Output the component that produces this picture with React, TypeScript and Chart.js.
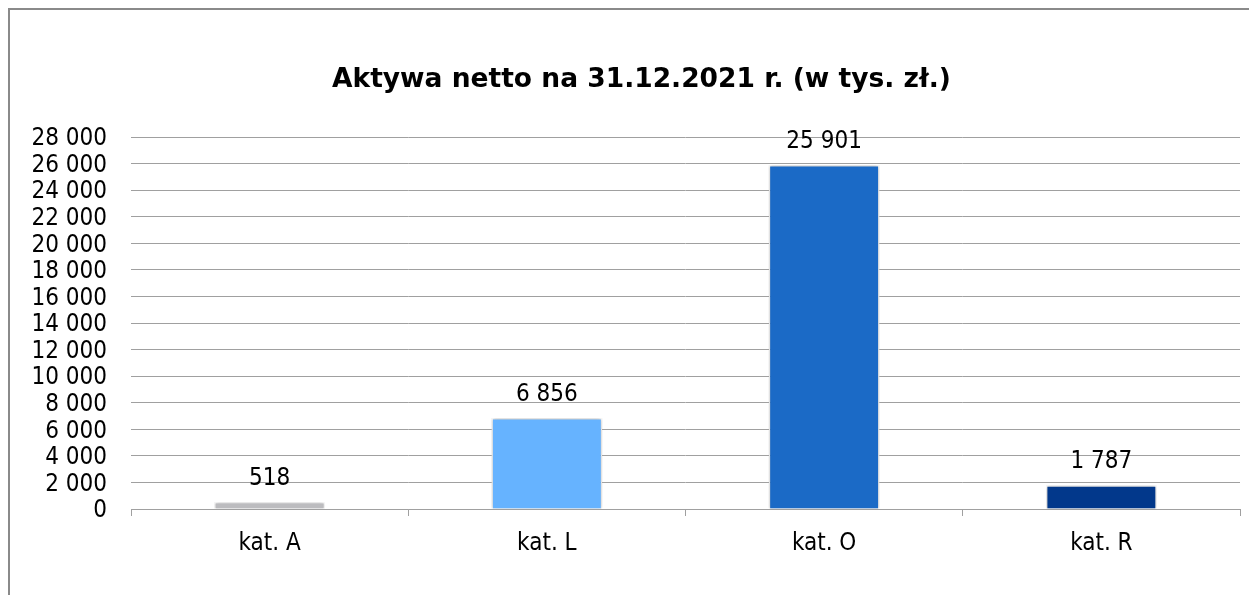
import React, { useEffect, useRef } from "react";
import { Chart, registerables } from "chart.js";
Chart.register(...registerables);

const categories = ["kat. A", "kat. L", "kat. O", "kat. R"];
const values = [518, 6856, 25901, 1787];
const barColors = ["#bcbcbf", "#66b3ff", "#1b6ac6", "#02388b"];
const titleText = "Aktywa netto na 31.12.2021 r. (w tys. zł.)";
const yMin = 0;
const yMax = 28000;
const yStep = 2000;

const labelFamily = "'DejaVu Sans Condensed', 'DejaVu Sans', sans-serif";

const fmt = (v: number) =>
  Math.round(v)
    .toString()
    .replace(/\B(?=(\d{3})+(?!\d))/g, " ");

const shadowPlugin = {
  id: "barShadow",
  beforeDatasetsDraw(chart: any) {
    const ctx = chart.ctx;
    ctx.save();
    ctx.shadowColor = "rgba(0,0,0,0.28)";
    ctx.shadowBlur = 4;
    ctx.shadowOffsetX = 0;
    ctx.shadowOffsetY = 0;
  },
  afterDatasetsDraw(chart: any) {
    chart.ctx.restore();
  },
};

const labelPlugin = {
  id: "valueLabels",
  afterDatasetsDraw(chart: any) {
    const ctx = chart.ctx;
    const meta = chart.getDatasetMeta(0);
    ctx.save();
    ctx.font = `24px ${labelFamily}`;
    ctx.fillStyle = "#000";
    ctx.textAlign = "center";
    ctx.textBaseline = "alphabetic";
    meta.data.forEach((bar: any, i: number) => {
      const { x, y } = bar.getProps(["x", "y"], true);
      ctx.fillText(fmt(values[i]), x, y - 17);
    });
    ctx.restore();
  },
};

const titleShiftPlugin = {
  id: "titleShift",
  afterLayout(chart: any) {
    const tb = chart.titleBlock;
    if (tb) tb.left = 33;
  },
};

export default function App() {
  const ref = useRef<HTMLCanvasElement | null>(null);
  useEffect(() => {
    if (!ref.current) return;
    const chart = new Chart(ref.current, {
      type: "bar",
      data: {
        labels: categories,
        datasets: [
          {
            data: values,
            backgroundColor: barColors,
            borderColor: "#ffffff",
            borderWidth: 1.5,
            categoryPercentage: 1,
            barPercentage: 0.4,
          },
        ],
      },
      options: {
        responsive: false,
        animation: false,
        layout: { padding: { left: 14, right: 17, top: 0, bottom: 38 } },
        plugins: {
          legend: { display: false },
          tooltip: { enabled: false },
          title: {
            display: true,
            text: titleText,
            color: "#000",
            font: { family: "'DejaVu Sans'", weight: "bold", size: 26.5 },
            padding: { top: 54, bottom: 41.2 },
          },
        },
        scales: {
          x: {
            grid: {
              drawOnChartArea: false,
              drawTicks: true,
              tickLength: 7,
              color: "#a0a0a0",
              offset: true,
            },
            border: { display: true, color: "#a0a0a0" },
            ticks: {
              color: "#000",
              font: { family: labelFamily, size: 24 },
              padding: 13,
            },
            afterFit: (s: any) => {
              s.height = 48;
            },
          },
          y: {
            min: yMin,
            max: yMax,
            grid: { color: "#a0a0a0", drawTicks: false },
            border: { display: false },
            ticks: {
              stepSize: yStep,
              autoSkip: false,
              color: "#000",
              font: { family: labelFamily, size: 24 },
              padding: 24,
              labelOffset: 2,
              callback: (v: any) => fmt(Number(v)),
            },
            afterFit: (s: any) => {
              s.width = 107;
            },
          },
        },
      },
      plugins: [shadowPlugin, labelPlugin, titleShiftPlugin],
    });
    return () => chart.destroy();
  }, []);

  return (
    <div
      style={{
        width: 1247,
        height: 585,
        borderTop: "2px solid #8a8a8a",
        borderLeft: "2px solid #8a8a8a",
        background: "#fff",
      }}
    >
      <canvas ref={ref} width={1247} height={585} style={{ display: "block" }} />
    </div>
  );
}
